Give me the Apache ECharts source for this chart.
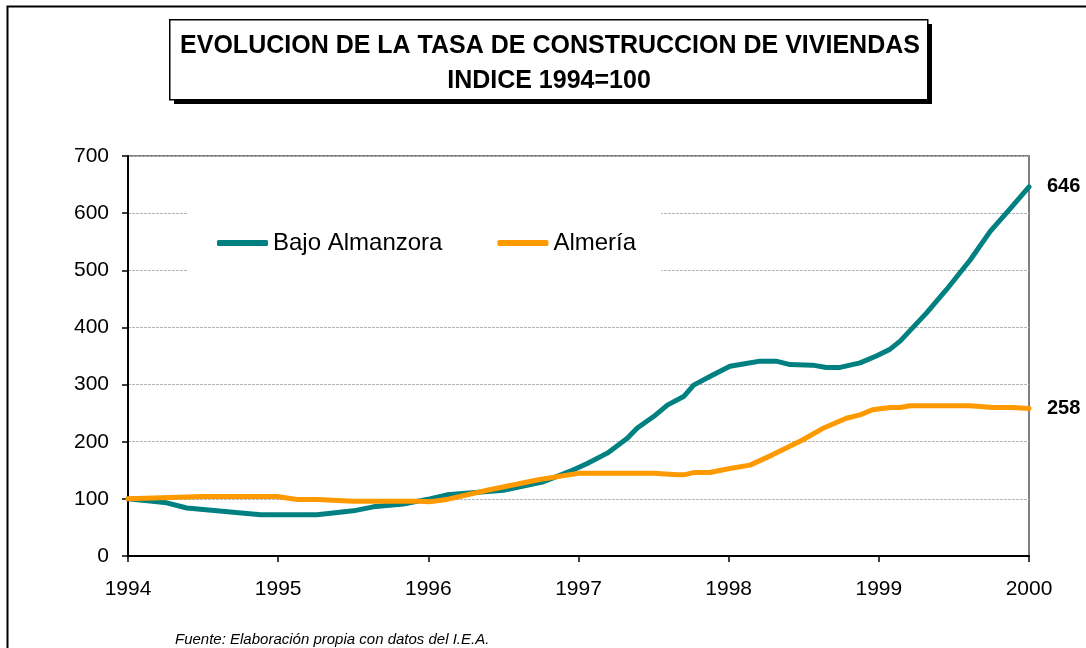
<!DOCTYPE html>
<html>
<head>
<meta charset="utf-8">
<script src="https://cdn.jsdelivr.net/npm/echarts@6/dist/echarts.min.js"></script>
<style>
html,body{margin:0;padding:0;background:#fff;}
#c{width:1086px;height:648px;}
</style>
</head>
<body>
<div id="c"></div>
<script>
// ---- data ----
const titleLine1 = 'EVOLUCION DE LA TASA DE CONSTRUCCION DE VIVIENDAS';
const titleLine2 = 'INDICE 1994=100';
const sourceText = 'Fuente: Elaboración propia con datos del I.E.A.';
const yearLabels = ['1994', '1995', '1996', '1997', '1998', '1999', '2000'];
const seriesNames = ['Bajo Almanzora', 'Almería'];

// months elapsed since Jan 1994, and index values (1994 = 100)
const bajoMonths = [0, 3.1, 4.7, 10.6, 12.2, 15.1, 18.0, 19.6, 22.0, 24.1, 25.5, 30.0, 33.2, 35.3, 36.7, 38.3, 39.9, 40.7, 42.0, 43.1, 44.4, 45.2, 46.5, 48.1, 49.4, 50.5, 51.8, 52.9, 54.7, 55.8, 56.9, 58.5, 59.8, 60.9, 61.7, 63.8, 65.4, 67.3, 68.9, 70.5, 72];
const bajoValues = [100, 93, 84, 72, 72, 72, 79, 86, 91, 100, 107, 115, 130, 148, 162, 180, 206, 224, 244, 264, 279, 299, 314, 332, 337, 341, 341, 335, 334, 330, 330, 338, 350, 362, 376, 425, 466, 518, 568, 608, 646];

const almeriaMonths = [0, 6.0, 11.9, 13.5, 15.1, 18.0, 23.3, 24.1, 25.5, 28.7, 32.9, 36.1, 42.0, 43.9, 44.4, 45.2, 46.5, 48.1, 49.7, 51.5, 53.9, 55.5, 57.4, 58.5, 59.5, 60.9, 61.7, 62.5, 67.3, 69.1, 70.7, 72];
const almeriaValues = [100, 104, 104, 99, 99, 96, 96, 95, 99, 115, 134, 145, 145, 142, 142, 146, 146, 153, 159, 177, 203, 223, 241, 247, 256, 260, 260, 263, 263, 260, 260, 258];

const yTicks = [0, 100, 200, 300, 400, 500, 600, 700];

// ---- chart ----
const pair = (ms, vs) => ms.map((m, i) => [m, vs[i]]);
const FONT = 'Arial, "Liberation Sans", sans-serif';

const chart = echarts.init(document.getElementById('c'), null, {renderer: 'canvas'});
chart.setOption({
  animation: false,
  backgroundColor: '#ffffff',
  grid: {left: 128, right: 57, top: 156, bottom: 92, show: true, borderColor: '#808080', borderWidth: 2},
  xAxis: {
    type: 'value', min: 0, max: 72, interval: 12,
    axisLine: {show: true, onZero: false, lineStyle: {color: '#000', width: 2}},
    axisTick: {show: true, length: 6, lineStyle: {color: '#000', width: 1.5}},
    splitLine: {show: false},
    axisLabel: {
      margin: 23, fontSize: 21, fontFamily: FONT, color: '#000',
      formatter: v => yearLabels[Math.round(v / 12)]
    }
  },
  yAxis: {
    type: 'value', min: yTicks[0], max: yTicks[yTicks.length - 1], interval: 100,
    axisLine: {show: true, lineStyle: {color: '#000', width: 2}},
    axisTick: {show: true, length: 6, lineStyle: {color: '#000', width: 1.5}},
    splitLine: {show: true, lineStyle: {color: '#b4b4b4', width: 1, type: [3, 1]}},
    axisLabel: {margin: 19, fontSize: 21, fontFamily: FONT, color: '#000'}
  },
  legend: {
    left: 188, top: 198,
    padding: [33, 25, 33, 29],
    backgroundColor: '#ffffff',
    itemWidth: 51, itemHeight: 6, itemGap: 55,
    icon: 'roundRect',
    textStyle: {fontSize: 24, fontFamily: FONT, color: '#000'},
    data: seriesNames
  },
  series: [
    {
      name: seriesNames[0], type: 'line', data: pair(bajoMonths, bajoValues),
      showSymbol: false, symbol: 'none',
      lineStyle: {color: '#008080', width: 5, cap: 'round', join: 'round'},
      itemStyle: {color: '#008080'},
      endLabel: {show: true, distance: 18, fontSize: 20, fontWeight: 'bold', fontFamily: FONT, color: '#000',
        formatter: p => String(p.value[1])}
    },
    {
      name: seriesNames[1], type: 'line', data: pair(almeriaMonths, almeriaValues),
      showSymbol: false, symbol: 'none',
      lineStyle: {color: '#FF9900', width: 5, cap: 'round', join: 'round'},
      itemStyle: {color: '#FF9900'},
      endLabel: {show: true, distance: 18, fontSize: 20, fontWeight: 'bold', fontFamily: FONT, color: '#000',
        formatter: p => String(p.value[1])}
    }
  ],
  graphic: [
    {type: 'rect', left: 5, top: 4, shape: {width: 1200, height: 800}, style: {fill: 'none', stroke: '#000', lineWidth: 2}, silent: true, z: 1},
    {type: 'rect', left: 174, top: 24, shape: {width: 758, height: 80}, style: {fill: '#000'}, z: 10},
    {type: 'rect', left: 169, top: 19, shape: {width: 758, height: 80}, style: {fill: '#fff', stroke: '#000', lineWidth: 1.5}, z: 11},
    {type: 'text', z: 12, x: 550, y: 46, style: {text: titleLine1, font: 'bold 25px ' + FONT, fill: '#000', align: 'center', verticalAlign: 'middle'}},
    {type: 'text', z: 12, x: 549, y: 81, style: {text: titleLine2, font: 'bold 25px ' + FONT, fill: '#000', align: 'center', verticalAlign: 'middle'}},
    {type: 'text', left: 175, top: 632, z: 12, style: {text: sourceText, font: 'italic 15px ' + FONT, fill: '#000'}}
  ]
});
</script>
</body>
</html>
